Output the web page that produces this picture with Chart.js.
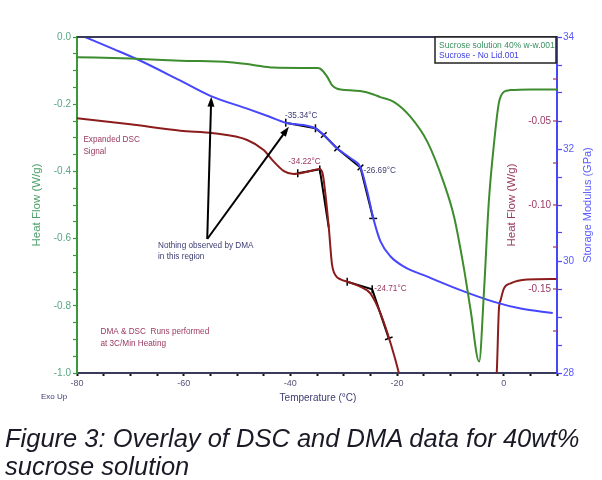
<!DOCTYPE html>
<html>
<head>
<meta charset="utf-8">
<script src="https://cdn.jsdelivr.net/npm/chart.js@4.4.1/dist/chart.umd.min.js"></script>
<style>
  body { margin: 0; background: #fff; }
  #wrap { position: relative; width: 602px; height: 480px; }
  #caption {
    position: absolute; left: 5px; top: 424px;
    font-family: "Liberation Sans", Arial, sans-serif; font-style: italic;
    font-size: 25.5px; line-height: 28px; color: #1a1a26;
  }
</style>
</head>
<body>
<div id="wrap">
  <canvas id="dscChart" width="602" height="480"></canvas>
  <div id="caption">Figure 3: Overlay of DSC and DMA data for 40wt%<br>sucrose solution</div>
</div>
<script>
// full DSC signal (left axis, W/g)
var greenTemp = [-80, -70, -60.6, -51.3, -47, -43.2, -38, -34.9, -34.4, -33.1, -32.2, -31.2, -30.6, -26.9, -24.4, -23.1, -20.6, -17.5, -14.3, -11.2, -9.3, -7.5, -6.2, -4.6, -3.7, -2.8, -1.8, -0.9, 0.06, 1.3, 5, 10];
var greenFlow = [-0.060, -0.064, -0.0705, -0.075, -0.083, -0.091, -0.092, -0.092, -0.094, -0.118, -0.143, -0.154, -0.156, -0.161, -0.171, -0.179, -0.193, -0.237, -0.312, -0.435, -0.535, -0.684, -0.8125, -0.966, -0.76, -0.494, -0.315, -0.196, -0.163, -0.158, -0.156, -0.156];

// storage modulus (GPa)
var blueTemp = [-78.5, -73, -68.2, -60.6, -55, -48.1, -44, -40.9, -35.3, -33.7, -31.2, -28.5, -26.85, -25.6, -24.35, -23.1, -21.2, -18.7, -14.3, -8.1, -1.8, 3.2, 9.2];
var blueMod = [34.0, 33.78, 33.58, 33.22, 32.95, 32.72, 32.58, 32.47, 32.37, 32.25, 32.01, 31.82, 31.67, 31.25, 30.73, 30.35, 30.08, 29.9, 29.72, 29.48, 29.27, 29.15, 29.07];

// expanded DSC signal (inner right axis, W/g)
var redTemp = [-80, -70, -60.6, -54.4, -48.1, -45, -43.1, -41.2, -39.4, -36.8, -34.5, -33.9, -32.8, -32.2, -31.5, -30.6, -29.0, -26.9, -25.0, -23.1, -21.2, -19.65, -19.3, null, -1.5, -1.3, -0.9, -0.56, 0.06, 1.3, 4.4, 9.9];
var redFlow = [-0.0484, -0.052, -0.0558, -0.0573, -0.0613, -0.0673, -0.0742, -0.0798, -0.0815, -0.0802, -0.0786, -0.082, -0.113, -0.135, -0.142, -0.1442, -0.146, -0.1486, -0.1526, -0.1645, -0.1823, -0.2, -0.205, null, -0.205, -0.2, -0.1625, -0.1565, -0.1496, -0.1466, -0.1443, -0.144];

// onset tangents
var dmaTanTemp = [-40.86, -35.29, -33.73, -31.22, -26.85, -24.47];
var dmaTanMod = [32.47, 32.37, 32.25, 32.01, 31.67, 30.76];
var dsc1TanTemp = [-38.61, -34.48, -32.8];
var dsc1TanFlow = [-0.0811, -0.0788, -0.1133];
var dsc2TanTemp = [-29.34, -24.65, -21.54];
var dsc2TanFlow = [-0.1457, -0.1502, -0.1794];

var xTicks = [-80, -60, -40, -20, 0];

function pts(xs, ys) {
    return xs.map(function (x, i) {
        return x === null ? {x: null, y: null} : {x: x, y: ys[i]};
    });
}

var FONT = '"Liberation Sans", Arial, sans-serif';
var GREEN = '#3d8c2d';
var BLUE = '#4646ff';
var RED = '#8c1c1c';
var NAVY = '#3c3c72';
var MAROON_TXT = '#9a3a62';

// text, arrows, legend, inner axis
var overlay = {
    id: 'overlay',
    afterDatasetsDraw: function (chart) {
        var c = chart.ctx, a = chart.chartArea;
        var sx = chart.scales.x, sy = chart.scales.y, sr = chart.scales.yr, sm = chart.scales.ym;
        c.save();

        // top frame line
        c.strokeStyle = '#3a3a5a';
        c.lineWidth = 2;
        c.beginPath();
        c.moveTo(a.left, a.top);
        c.lineTo(a.right, a.top);
        c.stroke();

        // inner heat flow axis (expanded signal)
        c.strokeStyle = MAROON_TXT;
        c.lineWidth = 1.2;
        c.fillStyle = MAROON_TXT;
        c.font = '10px ' + FONT;
        c.textAlign = 'right';
        c.textBaseline = 'middle';
        for (var v = -0.175; v < -0.01; v += 0.025) {
            var py = sr.getPixelForValue(v);
            c.beginPath();
            c.moveTo(a.right - 4, py);
            c.lineTo(a.right, py);
            c.stroke();
        }
        [-0.05, -0.10, -0.15].forEach(function (v) {
            c.fillText(v.toFixed(2), a.right - 6, sr.getPixelForValue(v));
        });

        // axis titles
        c.textAlign = 'center';
        function vtext(t, x, y, col) {
            c.save();
            c.translate(x, y);
            c.rotate(-Math.PI / 2);
            c.fillStyle = col;
            c.fillText(t, 0, 0);
            c.restore();
        }
        var midY = (a.top + a.bottom) / 2;
        c.font = '11.5px ' + FONT;
        vtext('Heat Flow (W/g)', 37, midY, '#4ea06a');
        vtext('Heat Flow (W/g)', 512, midY, MAROON_TXT);
        c.font = '11px ' + FONT;
        vtext('Storage Modulus (GPa)', 588, midY, '#5a5aff');
        c.font = '10px ' + FONT;
        c.fillStyle = NAVY;
        c.fillText('Temperature (°C)', 318, 398);
        c.font = '8px ' + FONT;
        c.textAlign = 'left';
        c.fillText('Exo Up', 41, 397);

        // notes
        c.font = '8.2px ' + FONT;
        c.fillStyle = MAROON_TXT;
        c.fillText('Expanded DSC', sx.getPixelForValue(-78.8), 140);
        c.fillText('Signal', sx.getPixelForValue(-78.8), 152);
        c.fillText('DMA & DSC  Runs performed', sx.getPixelForValue(-75.6), 332);
        c.fillText('at 3C/Min Heating', sx.getPixelForValue(-75.6), 344);
        c.fillStyle = NAVY;
        c.fillText('Nothing observed by DMA', 158, 246);
        c.fillText('in this region', 158, 257);

        // onset labels
        c.fillStyle = NAVY;
        c.textAlign = 'right';
        c.fillText('-35.34°C', sx.getPixelForValue(-35.29) + 2, sm.getPixelForValue(32.37) - 13);
        c.textAlign = 'left';
        c.fillText('-26.69°C', sx.getPixelForValue(-26.85) + 3, sm.getPixelForValue(31.67) + 3);
        c.fillStyle = MAROON_TXT;
        c.textAlign = 'right';
        c.fillText('-34.22°C', sx.getPixelForValue(-34.48) + 1, sr.getPixelForValue(-0.0788) - 8);
        c.textAlign = 'left';
        c.fillText('-24.71°C', sx.getPixelForValue(-24.65) + 2, sr.getPixelForValue(-0.1502) - 1);

        // arrows
        var ox = sx.getPixelForValue(-55.58), oy = sy.getPixelForValue(-0.6012);
        [[-54.83, -0.1777], [-40.27, -0.267]].forEach(function (t) {
            var tx = sx.getPixelForValue(t[0]), ty = sy.getPixelForValue(t[1]);
            var ang = Math.atan2(ty - oy, tx - ox);
            c.strokeStyle = '#000';
            c.fillStyle = '#000';
            c.lineWidth = 2;
            c.beginPath();
            c.moveTo(ox, oy);
            c.lineTo(tx - 6 * Math.cos(ang), ty - 6 * Math.sin(ang));
            c.stroke();
            c.beginPath();
            c.moveTo(tx, ty);
            c.lineTo(tx - 10 * Math.cos(ang) + 3.5 * Math.sin(ang), ty - 10 * Math.sin(ang) - 3.5 * Math.cos(ang));
            c.lineTo(tx - 10 * Math.cos(ang) - 3.5 * Math.sin(ang), ty - 10 * Math.sin(ang) + 3.5 * Math.cos(ang));
            c.closePath();
            c.fill();
        });

        // legend box
        c.fillStyle = '#fff';
        c.fillRect(435, 37, 121, 26);
        c.strokeStyle = '#222';
        c.lineWidth = 1.5;
        c.strokeRect(435, 37, 121, 26);
        c.font = '8.5px ' + FONT;
        c.textAlign = 'left';
        c.fillStyle = '#3a8f5f';
        c.fillText('Sucrose solution 40% w-w.001', 439, 46);
        c.fillStyle = '#4040e0';
        c.fillText('Sucrose - No Lid.001', 439, 56);

        c.restore();
    }
};

var ctx = document.getElementById('dscChart').getContext('2d');
var dscChart = new Chart(ctx, {
    type: 'line',
    data: {
        datasets: [{
            label: 'Sucrose solution 40% w-w.001',
            data: pts(greenTemp, greenFlow),
            yAxisID: 'y',
            borderColor: GREEN,
            borderWidth: 2,
            pointRadius: 0,
            cubicInterpolationMode: 'monotone'
        }, {
            label: 'Sucrose - No Lid.001',
            data: pts(blueTemp, blueMod),
            yAxisID: 'ym',
            borderColor: BLUE,
            borderWidth: 2,
            pointRadius: 0,
            cubicInterpolationMode: 'monotone'
        }, {
            label: 'Expanded DSC',
            data: pts(redTemp, redFlow),
            yAxisID: 'yr',
            borderColor: RED,
            borderWidth: 2,
            pointRadius: 0,
            spanGaps: false,
            cubicInterpolationMode: 'monotone'
        }, {
            label: 'DMA onset',
            data: pts(dmaTanTemp, dmaTanMod),
            yAxisID: 'ym',
            borderColor: '#000',
            borderWidth: 2,
            pointStyle: 'line',
            pointRadius: 4,
            pointBorderWidth: 1.5,
            pointRotation: [90, 90, 135, 135, 135, 0],
            tension: 0
        }, {
            label: 'DSC onset 1',
            data: pts(dsc1TanTemp, dsc1TanFlow),
            yAxisID: 'yr',
            borderColor: '#000',
            borderWidth: 2,
            pointStyle: 'line',
            pointRadius: [4, 4, 0],
            pointBorderWidth: 1.5,
            pointRotation: 90,
            tension: 0
        }, {
            label: 'DSC onset 2',
            data: pts(dsc2TanTemp, dsc2TanFlow),
            yAxisID: 'yr',
            borderColor: '#000',
            borderWidth: 2,
            pointStyle: 'line',
            pointRadius: 4,
            pointBorderWidth: 1.5,
            pointRotation: [90, 90, 160],
            tension: 0
        }]
    },
    options: {
        responsive: false,
        animation: false,
        layout: {padding: {top: 37, left: 0, right: 0, bottom: 0}},
        plugins: {legend: {display: false}, tooltip: {enabled: false}},
        scales: {
            x: {
                type: 'linear',
                position: 'bottom',
                min: -80,
                max: 10,
                afterFit: function (s) { s.height = 107; },
                border: {color: '#3a3a5a', width: 2},
                grid: {drawOnChartArea: false, tickLength: 3, tickColor: '#111', tickWidth: 2},
                ticks: {
                    stepSize: 5,
                    autoSkip: false,
                    maxRotation: 0,
                    padding: 2,
                    color: '#55557a',
                    font: {family: FONT, size: 9},
                    callback: function (v) { return xTicks.indexOf(v) >= 0 ? String(v) : ''; }
                }
            },
            y: {
                position: 'left',
                min: -1,
                max: 0,
                afterFit: function (s) { s.width = 77; },
                border: {color: '#3a9a3a', width: 2},
                grid: {drawOnChartArea: false, tickLength: 4, tickColor: '#3a9a3a', tickWidth: 1.2},
                ticks: {
                    stepSize: 0.05,
                    autoSkip: false,
                    padding: 2,
                    color: '#5aa585',
                    font: {family: FONT, size: 10},
                    callback: function (v) {
                        var k = Math.round(Math.abs(v) * 100);
                        return k % 20 === 0 ? (Math.round(v * 10) / 10).toFixed(1) : '';
                    }
                }
            },
            yr: {
                display: false,
                min: -0.2,
                max: 0
            },
            ym: {
                position: 'right',
                min: 28,
                max: 34,
                afterFit: function (s) { s.width = 45; },
                border: {color: '#4646ff', width: 2},
                grid: {drawOnChartArea: false, tickLength: 5, tickColor: '#4646ff', tickWidth: 1.2},
                ticks: {
                    stepSize: 0.5,
                    autoSkip: false,
                    padding: 1,
                    color: '#5a5aff',
                    font: {family: FONT, size: 10},
                    callback: function (v) { return v % 2 === 0 ? String(v) : ''; }
                }
            }
        }
    },
    plugins: [overlay]
});
</script>
</body>
</html>
